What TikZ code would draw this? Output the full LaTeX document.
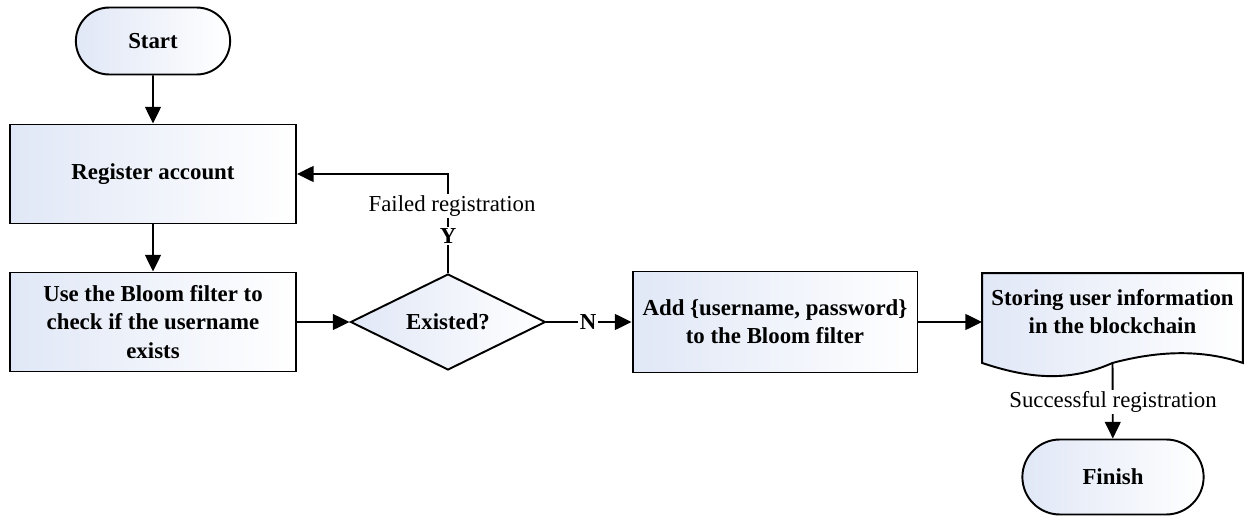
\documentclass[tikz,border=0pt]{standalone}
\usepackage{fontspec}
\setmainfont{Liberation Serif}
\usetikzlibrary{arrows.meta,shapes.misc,shapes.geometric,calc}
\definecolor{shadeblue}{RGB}{224,231,246}

\begin{document}
\begin{tikzpicture}
    [x=0.02cm, y=-0.02cm, line width=1.1pt,
     font=\fontsize{13}{16}\selectfont,
     box/.style={draw, rectangle, align=center, inner sep=2pt,
       font=\fontsize{13}{16}\selectfont\bfseries,
       left color=shadeblue, right color=white},
     term/.style={draw, rounded rectangle,
       font=\fontsize{13}{16}\selectfont\bfseries,
       left color=shadeblue, right color=white},
     decision/.style={draw, diamond, aspect=2, inner sep=0pt,
       font=\fontsize{13}{16}\selectfont\bfseries,
       left color=shadeblue, right color=white},
     lbl/.style={fill=white, inner sep=1pt},
     flow/.style={-{Triangle[length=9.5pt,width=9pt]}}]
    \useasboundingbox (0,0) rectangle (1248,517);
    % left column
    \node[term, minimum width=3.32cm, minimum height=1.34cm] (start) at (153,41) {Start};
    \node[box, minimum width=5.72cm, minimum height=1.98cm] (reg) at (153,174) {Register account};
    \node[box, minimum width=5.72cm, minimum height=1.98cm] (bloom) at (153,322)
      {Use the Bloom filter to\\check if the username\\exists};
    \draw[flow] (start) -- (reg);
    \draw[flow] (reg) -- (bloom);
    % decision
    \node[decision, minimum width=3.9cm, minimum height=1.92cm] (exist) at (448,322) {Existed?};
    \draw[flow] (bloom) -- (exist);
    \draw[flow] (exist.north) |- (reg.east);
    \node[lbl] (failed) at (452,206) {Failed registration};
    \node[lbl, font=\fontsize{13}{16}\selectfont\bfseries] (yes) at (448,236) {Y};
    % right part
    \node[box, minimum width=5.7cm, minimum height=2.02cm] (add) at (775,322)
      {Add \{username, password\}\\to the Bloom filter};
    \draw[flow] (exist) -- (add);
    \node[lbl, font=\fontsize{13}{16}\selectfont\bfseries] (no) at (588,322) {N};
    \node[rectangle, minimum width=5.18cm, minimum height=1.76cm] (store) at (1112.5,318) {};
    \draw[left color=shadeblue, right color=white]
      (store.north west) -- (store.north east) -- (store.south east)
      .. controls +(-42,-14) and +(45,-12) .. (store.south)
      .. controls +(-45,20) and +(45,15) .. (store.south west) -- cycle;
    \node[align=center, font=\fontsize{13}{16}\selectfont\bfseries] (storetxt) at (1112.5,312)
      {Storing user information\\in the blockchain};
    \draw[flow] (add.east) -- (add.east -| store.west);
    \node[term, minimum width=3.86cm, minimum height=1.5cm] (finish) at (1113,477) {Finish};
    \draw[flow] (store.south) -- (finish);
    \node[lbl] (success) at (1113,402) {Successful registration};
  \end{tikzpicture}
\end{document}
